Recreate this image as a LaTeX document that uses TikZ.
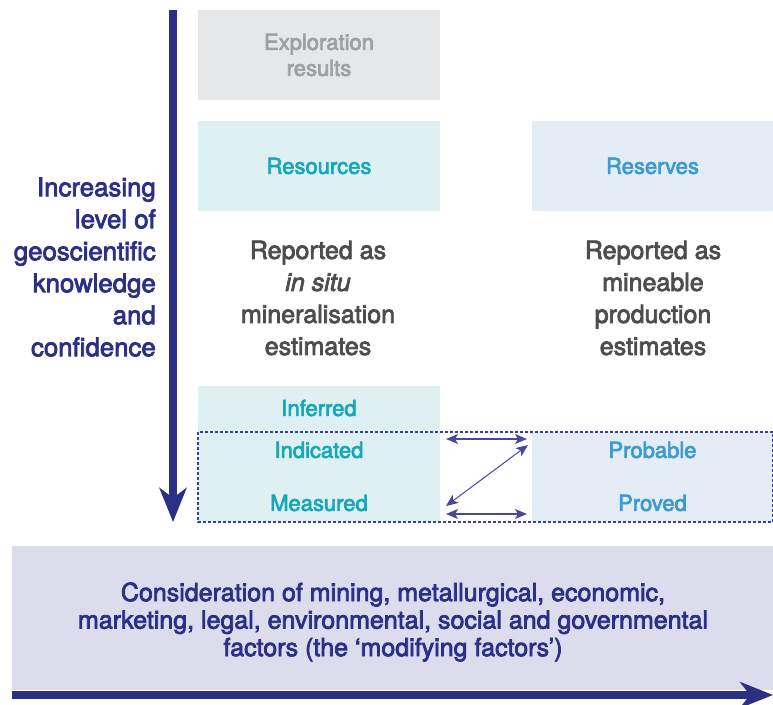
\documentclass[tikz,border=0pt]{standalone}
\usepackage{fontspec}
\setmainfont{TeX Gyre Heros}
\newfontfamily\med[FakeBold=3]{TeX Gyre Heros}
\usetikzlibrary{arrows.meta}
\definecolor{navy}{HTML}{2B3087}
\definecolor{arrowblue}{HTML}{45489D}
\definecolor{dashblue}{HTML}{3A3F95}
\definecolor{expfill}{HTML}{E6E7E8}
\definecolor{exptext}{HTML}{9D9FA2}
\definecolor{resfill}{HTML}{DFF0F3}
\definecolor{restext}{HTML}{16A8B8}
\definecolor{rsvfill}{HTML}{E4ECF5}
\definecolor{rsvtext}{HTML}{3C9AD0}
\definecolor{graytext}{HTML}{4D4D4D}
\definecolor{modfill}{HTML}{DDDCED}
\begin{document}
\begin{tikzpicture}[x=1pt,y=-1pt,
  fillbox/.style={inner sep=0pt, outer sep=0pt, minimum width=242pt, draw=none},
  lbl/.style={inner sep=0pt, font=\med\fontsize{22}{26}\selectfont, align=center},
  body/.style={inner sep=0pt, font=\med\fontsize{25}{32}\selectfont, align=center, text=graytext},
  twoway/.style={arrowblue, line width=1.4pt, {Stealth[length=12pt,width=10pt,inset=3pt]}-{Stealth[length=12pt,width=10pt,inset=3pt]}},
  bigarrow/.style={navy, line width=8pt, -{Stealth[length=34pt,width=27pt,inset=10pt]}}
]
\useasboundingbox (0,0) rectangle (773,704);

% boxes
\node[fillbox, fill=expfill, minimum height=90pt] (expl) at (319,55) {};
\node[fillbox, fill=resfill, minimum height=90pt] (resbox) at (319,166) {};
\node[fillbox, fill=rsvfill, minimum width=241pt, minimum height=90pt] (rsvbox) at (652.5,166) {};
\node[fillbox, fill=resfill, minimum height=136pt] (resclass) at (319,454) {};
\node[fillbox, fill=rsvfill, minimum width=241pt, minimum height=90pt] (rsvclass) at (652.5,477) {};
\node[inner sep=0pt, outer sep=0pt, fill=modfill, minimum width=761pt, minimum height=144pt] (modbox) at (392.5,618) {};

% dashed frame
\draw[dashblue, line width=1.1pt, dash pattern=on 3pt off 2pt] (198,432) rectangle (773,522);

% labels
\node[lbl, text=exptext] (explt) at (319,55) {Exploration\\results};
\node[lbl, text=restext] (rest) at (319,166) {Resources};
\node[lbl, text=rsvtext] (rsvt) at (652.5,166) {Reserves};
\node[lbl, text=restext] (inf) at (319,408) {Inferred};
\node[lbl, text=restext] (ind) at (319,450) {Indicated};
\node[lbl, text=restext] (mea) at (319,503) {Measured};
\node[lbl, text=rsvtext] (prob) at (652.5,450) {Probable};
\node[lbl, text=rsvtext] (prov) at (652.5,503) {Proved};

\node[body] (insitu) at (318,298) {Reported as\\\textit{in situ}\\mineralisation\\estimates};
\node[body] (mineable) at (653,298) {Reported as\\mineable\\production\\estimates};

\node[inner sep=0pt, anchor=east, align=right, text=navy, font=\med\fontsize{25.8}{32}\selectfont] (axis) at (156,267)
  {Increasing\\level of\\geoscientific\\knowledge\\and\\confidence};

\node[inner sep=0pt, align=center, text=navy, font=\med\fontsize{25}{27.5}\selectfont] (modt) at (393,622)
  {Consideration of mining, metallurgical, economic,\\marketing, legal, environmental, social and governmental\\factors (the ‘modifying factors’)};

% main arrows
\coordinate (vtop) at (173,10);
\coordinate (vtip) at (173,522);
\draw[bigarrow] (vtop) -- (vtip);
\coordinate (hstart) at (12,695);
\coordinate (htip) at (773,695);
\draw[bigarrow, -{Stealth[length=33pt,width=26pt,inset=10pt]}] (hstart) -- (htip);

% conversion arrows
\coordinate (a1) at (446,439);
\coordinate (b1) at (527,439);
\coordinate (a2) at (446,506);
\coordinate (b2) at (528,445);
\coordinate (a3) at (446,514);
\coordinate (b3) at (527,514);
\draw[twoway] (a1) -- (b1);
\draw[twoway, line width=1pt] (a2) -- (b2);
\draw[twoway] (a3) -- (b3);
\end{tikzpicture}
\end{document}
